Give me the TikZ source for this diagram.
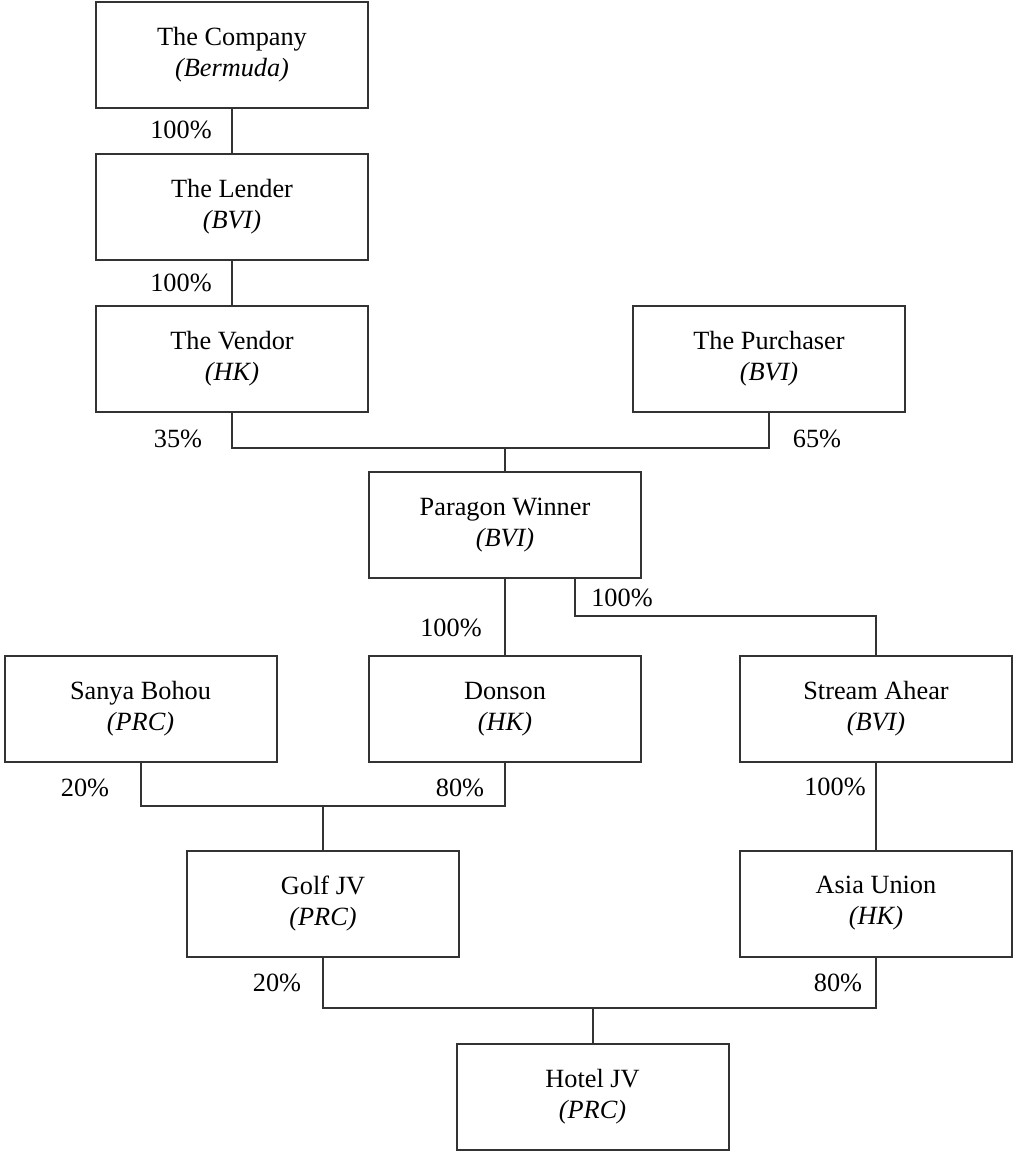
\documentclass[tikz,border=0pt]{standalone}
\usepackage{fontspec}
\setmainfont{Liberation Serif}

\begin{document}
\begin{tikzpicture}[
    x=0.5pt, y=-0.5pt,
    entity/.style={rectangle, draw=black!80, line width=1pt, fill=white,
        minimum width=136pt, minimum height=53pt, inner sep=0pt,
        align=center, font=\fontsize{13.15}{15.5}\selectfont},
    share/.style={inner sep=0pt, font=\fontsize{13.15}{15.5}\selectfont},
    link/.style={draw=black!80, line width=1pt, -}
]
    \useasboundingbox (0,0) rectangle (1013,1151);
    \node[entity] (company) at (232,55) {The Company\\\textit{(Bermuda)}};
    \node[entity] (lender) at (232,207) {The Lender\\\textit{(BVI)}};
    \node[entity] (vendor) at (232,359) {The Vendor\\\textit{(HK)}};
    \node[entity] (purchaser) at (769,359) {The Purchaser\\\textit{(BVI)}};
    \node[entity] (paragon) at (505,525) {Paragon Winner\\\textit{(BVI)}};
    \node[entity] (sanya) at (140.5,709) {Sanya Bohou\\\textit{(PRC)}};
    \node[entity] (donson) at (505,709) {Donson\\\textit{(HK)}};
    \node[entity] (stream) at (876,709) {Stream Ahear\\\textit{(BVI)}};
    \node[entity] (golf) at (323,903.5) {Golf JV\\\textit{(PRC)}};
    \node[entity] (asia) at (876,903.5) {Asia Union\\\textit{(HK)}};
    \node[entity] (hotel) at (592.5,1096.5) {Hotel JV\\\textit{(PRC)}};
    \coordinate (jpw) at (505,448);
    \coordinate (jsa) at (575,616);
    \coordinate (jgolf) at (323,806);
    \coordinate (jhotel) at (592.5,1008);
    \draw[link] (company) -- (lender);
    \draw[link] (lender) -- (vendor);
    \draw[link] (vendor.south) |- (jpw) -| (purchaser.south);
    \draw[link] (jpw) -- (paragon.north);
    \draw[link] (paragon) -- (donson);
    \draw[link] (paragon.south -| jsa) -- (jsa) -| (stream.north);
    \draw[link] (sanya.south) |- (jgolf) -| (donson.south);
    \draw[link] (jgolf) -- (golf.north);
    \draw[link] (stream) -- (asia);
    \draw[link] (golf.south) |- (jhotel) -| (asia.south);
    \draw[link] (jhotel) -- (hotel.north);
    \node[share] (s1) at (181,130) {100\%};
    \node[share] (s2) at (181,283) {100\%};
    \node[share] (s3) at (178,439) {35\%};
    \node[share] (s4) at (817,439) {65\%};
    \node[share] (s5) at (622,598) {100\%};
    \node[share] (s6) at (451,628) {100\%};
    \node[share] (s7) at (85,788) {20\%};
    \node[share] (s8) at (460,788) {80\%};
    \node[share] (s9) at (835,787) {100\%};
    \node[share] (s10) at (277,983) {20\%};
    \node[share] (s11) at (838,983) {80\%};
\end{tikzpicture}
\end{document}
